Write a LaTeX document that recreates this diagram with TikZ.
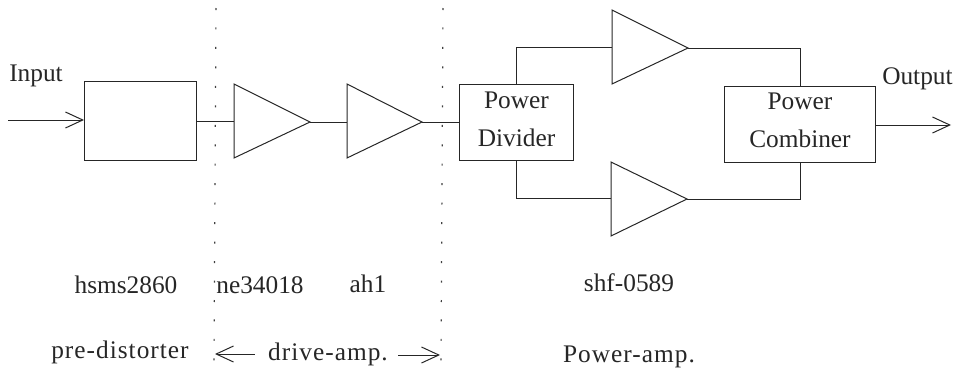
\documentclass[tikz,border=0pt]{standalone}
\usepackage{fontspec}
\setmainfont{Liberation Serif}
\usetikzlibrary{arrows.meta}
\tikzset{
  x=0.75pt,y=-0.75pt,
  wire/.style={draw=black!85,line width=0.75pt},
  blockbox/.style={draw=black!85,line width=0.8pt,inner sep=0pt,align=center,font=\fontsize{19}{28.5}\selectfont,text=black!85},
  lbl/.style={font=\fontsize{19}{23}\selectfont,text=black!85,inner sep=0pt,anchor=base},
  widelbl/.style={lbl,font=\fontsize{19}{23}\selectfont\addfontfeature{LetterSpace=4}},
  sepline/.style={draw=black!75,line width=0.9pt,dash pattern=on 1.5pt off 13.1pt},
  tipwire/.style={wire,-{Straight Barb[length=13pt,width=12pt,line width=0.75pt]}},
  ampshape/.style={draw=black!85,line width=0.75pt,line join=miter}
}
\begin{document}
\begin{tikzpicture}
\useasboundingbox (0,0) rectangle (960,372);
% separators
\coordinate (s1a) at (216,8); \coordinate (s1b) at (214,362);
\coordinate (s2a) at (443,8); \coordinate (s2b) at (441,362);
\draw[sepline] (s1a) -- (s1b);
\draw[sepline] (s2a) -- (s2b);
% boxes
\node[blockbox,minimum width=84pt,minimum height=59pt] (pd) at (140.5,121) {};
\node[blockbox,minimum width=85pt,minimum height=56.5pt,text depth=4.5pt] (div) at (516.5,122.5) {Power\\Divider};
\node[blockbox,minimum width=113pt,minimum height=57pt,text depth=6.5pt] (comb) at (800,124.3) {Power\\Combiner};
% amplifiers
\coordinate (a1a) at (234,84); \coordinate (a1b) at (234,158); \coordinate (a1t) at (310,122); \coordinate (a1i) at (234,121);
\coordinate (a2a) at (347,84); \coordinate (a2b) at (347,158); \coordinate (a2t) at (422,122); \coordinate (a2i) at (347,122);
\coordinate (a3a) at (612,10); \coordinate (a3b) at (612,84); \coordinate (a3t) at (688,48); \coordinate (a3i) at (612,47.5);
\coordinate (a4a) at (611,162); \coordinate (a4b) at (611,236); \coordinate (a4t) at (687,199); \coordinate (a4i) at (611,198.5);
\draw[ampshape] (a1a) -- (a1t) -- (a1b) -- cycle;
\draw[ampshape] (a2a) -- (a2t) -- (a2b) -- cycle;
\draw[ampshape] (a3a) -- (a3t) -- (a3b) -- cycle;
\draw[ampshape] (a4a) -- (a4t) -- (a4b) -- cycle;
% connectors
\coordinate (inS) at (8,120);
\coordinate (outE) at (951,125);
\draw[tipwire] (inS) -- (pd.west |- inS);
\draw[wire] (pd.east |- a1i) -- (a1i);
\draw[wire] (a1t) -- (a2i);
\draw[wire] (a2t) -- (div.west |- a2t);
\draw[wire] (div.north) -- (div.north |- a3i) -- (a3i);
\draw[wire] (div.south) -- (div.south |- a4i) -- (a4i);
\draw[wire] (a3t) -- (comb.north |- a3t) -- (comb.north);
\draw[wire] (a4t) -- (comb.south |- a4t) -- (comb.south);
\draw[tipwire] (comb.east |- outE) -- (outE);
% labels
\node[lbl,anchor=base west] (inl) at (9,81) {Input};
\node[lbl,anchor=base west] (outl) at (882,84) {Output};
\node[lbl] (l1) at (126,293) {hsms2860};
\node[lbl] (l2) at (260,293) {ne34018};
\node[lbl] (l3) at (368,292) {ah1};
\node[lbl] (l4) at (629,291) {shf-0589};
\node[widelbl] (l5) at (120,358) {pre-distorter};
\node[widelbl] (l6) at (328,360) {drive-amp.};
\node[widelbl] (l7) at (629,362) {Power-amp.};
\coordinate (dl) at (215,354); \coordinate (dr) at (440,355);
\draw[tipwire] (l6.west |- dl) ++(-13,0) -- (dl);
\draw[tipwire] (l6.east |- dr) ++(10,0) -- (dr);
\end{tikzpicture}
\end{document}
